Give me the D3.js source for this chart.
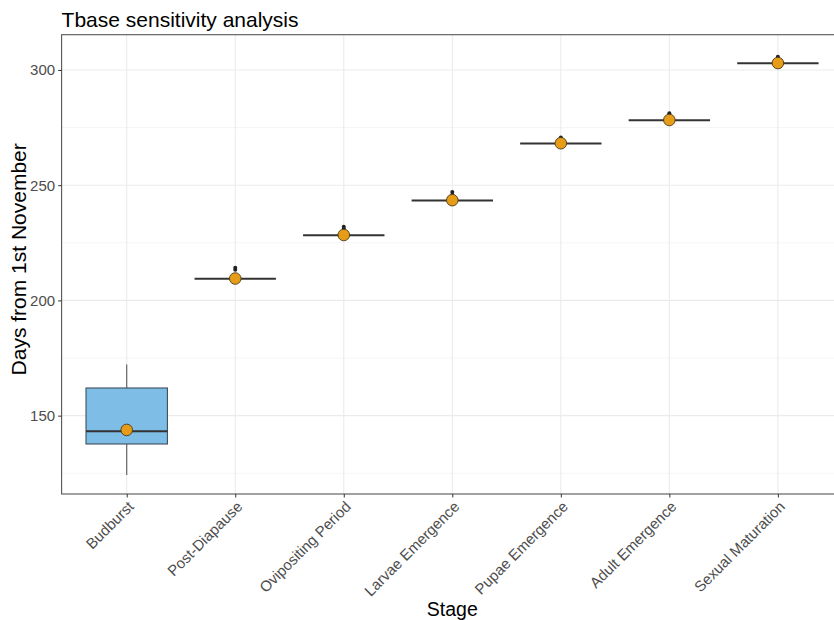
<!DOCTYPE html>
<html>
<head>
<meta charset="utf-8">
<script src="https://cdn.jsdelivr.net/npm/d3@7"></script>
<style>
  body { margin: 0; background: #fff; }
  svg { display: block; font-family: "Liberation Sans", Arial, sans-serif; }
</style>
</head>
<body>
<svg id="chart" width="834" height="620"></svg>
<script>
// Development stages on the x axis
const stages = ["Budburst", "Post-Diapause", "Ovipositing Period", "Larvae Emergence",
                "Pupae Emergence", "Adult Emergence", "Sexual Maturation"];
// Box-plot summary per stage (days from 1st November)
const whiskerLow  = [124.2, 209.4, 228.3, 243.4, 268.1, 278.2, 302.9];
const q1          = [137.7, 209.4, 228.3, 243.4, 268.1, 278.2, 302.9];
const median      = [143.2, 209.4, 228.3, 243.4, 268.1, 278.2, 302.9];
const q3          = [162.0, 209.4, 228.3, 243.4, 268.1, 278.2, 302.9];
const whiskerHigh = [172.2, 209.4, 228.3, 243.4, 268.1, 278.2, 302.9];
const means       = [143.8, 209.5, 228.4, 243.5, 268.2, 278.3, 303.0];
const outliers    = [[], [213.3, 214.2], [231.1, 232.0], [245.8, 247.0],
                     [270.0, 270.7], [280.4, 281.2], [305.0, 305.7]];
const yTicks      = [150, 200, 250, 300];
const yMinor      = [125, 175, 225, 275];

const svg = d3.select("#chart");
const pLeft = 61.6, pRight = 843, pTop = 34.7, pBottom = 494;

const x = d3.scalePoint().domain(stages).range([pLeft, pRight]).padding(0.6);
const step = x.step();
const y = d3.scaleLinear().domain([116.0, 315.3]).range([pBottom, pTop]);

// Panel grid
const grid = svg.append("g");
grid.selectAll("line.minor").data(yMinor).join("line")
  .attr("x1", pLeft).attr("x2", pRight)
  .attr("y1", d => y(d)).attr("y2", d => y(d))
  .attr("stroke", "#f2f2f2").attr("stroke-width", 0.8);
grid.selectAll("line.major").data(yTicks).join("line")
  .attr("x1", pLeft).attr("x2", pRight)
  .attr("y1", d => y(d)).attr("y2", d => y(d))
  .attr("stroke", "#ebebeb").attr("stroke-width", 1.1);
grid.selectAll("line.vx").data(stages).join("line")
  .attr("x1", d => x(d)).attr("x2", d => x(d))
  .attr("y1", pTop).attr("y2", pBottom)
  .attr("stroke", "#ebebeb").attr("stroke-width", 1.1);

// Boxes
const bw = step * 0.75;
const boxes = svg.append("g");
stages.forEach((s, i) => {
  const cx = x(s);
  const g = boxes.append("g");
  g.append("line")
    .attr("x1", cx).attr("x2", cx)
    .attr("y1", y(q3[i])).attr("y2", y(whiskerHigh[i]))
    .attr("stroke", "#5a5a5a").attr("stroke-width", 1.1);
  g.append("line")
    .attr("x1", cx).attr("x2", cx)
    .attr("y1", y(q1[i])).attr("y2", y(whiskerLow[i]))
    .attr("stroke", "#5a5a5a").attr("stroke-width", 1.1);
  g.append("rect")
    .attr("x", cx - bw / 2).attr("width", bw)
    .attr("y", y(q3[i])).attr("height", Math.max(0, y(q1[i]) - y(q3[i])))
    .attr("fill", "#7ebde6").attr("stroke", "#3f4e5a").attr("stroke-width", 1.1);
  g.append("line")
    .attr("x1", cx - bw / 2).attr("x2", cx + bw / 2)
    .attr("y1", y(median[i])).attr("y2", y(median[i]))
    .attr("stroke", "#333").attr("stroke-width", 2);
  g.selectAll("circle.out").data(outliers[i]).join("circle")
    .attr("cx", cx).attr("cy", d => y(d)).attr("r", 2)
    .attr("fill", "#222");
});

// Mean markers
svg.append("g").selectAll("circle").data(stages).join("circle")
  .attr("cx", d => x(d)).attr("cy", (d, i) => y(means[i])).attr("r", 5.8)
  .attr("fill", "#e69c17").attr("stroke", "#4a3a1a").attr("stroke-width", 0.9);

// Panel border
svg.append("rect")
  .attr("x", pLeft).attr("y", pTop).attr("width", pRight - pLeft).attr("height", pBottom - pTop)
  .attr("fill", "none").attr("stroke", "#555").attr("stroke-width", 1.1);

// Y axis
const yAxis = svg.append("g").attr("transform", `translate(${pLeft},0)`)
  .call(d3.axisLeft(y).tickValues(yTicks).tickSize(3.5).tickPadding(3));
yAxis.select(".domain").remove();
yAxis.selectAll("line").attr("stroke", "#333");
yAxis.selectAll("text").attr("fill", "#4d4d4d").style("font-size", "15px")
  .style("font-family", "Liberation Sans, Arial, sans-serif");

// X axis
const xAxis = svg.append("g").attr("transform", `translate(0,${pBottom})`)
  .call(d3.axisBottom(x).tickSize(3.5).tickPadding(3));
xAxis.select(".domain").remove();
xAxis.selectAll("line").attr("stroke", "#333");
xAxis.selectAll("text")
  .attr("fill", "#4d4d4d").style("font-size", "15px")
  .style("font-family", "Liberation Sans, Arial, sans-serif")
  .attr("text-anchor", "end")
  .attr("transform", "translate(0,6) rotate(-45)")
  .attr("dy", "0.71em").attr("y", 0);

// Titles
svg.append("text").attr("x", pLeft).attr("y", 27)
  .attr("font-size", 21).attr("fill", "#000").text("Tbase sensitivity analysis");
svg.append("text").attr("x", (pLeft + pRight) / 2).attr("y", 616)
  .attr("text-anchor", "middle").attr("font-size", 19.5).attr("fill", "#000").text("Stage");
svg.append("text")
  .attr("transform", `translate(26,${(pTop + pBottom) / 2 - 5}) rotate(-90)`)
  .attr("text-anchor", "middle").attr("font-size", 21).attr("fill", "#000")
  .text("Days from 1st November");
</script>
</body>
</html>
